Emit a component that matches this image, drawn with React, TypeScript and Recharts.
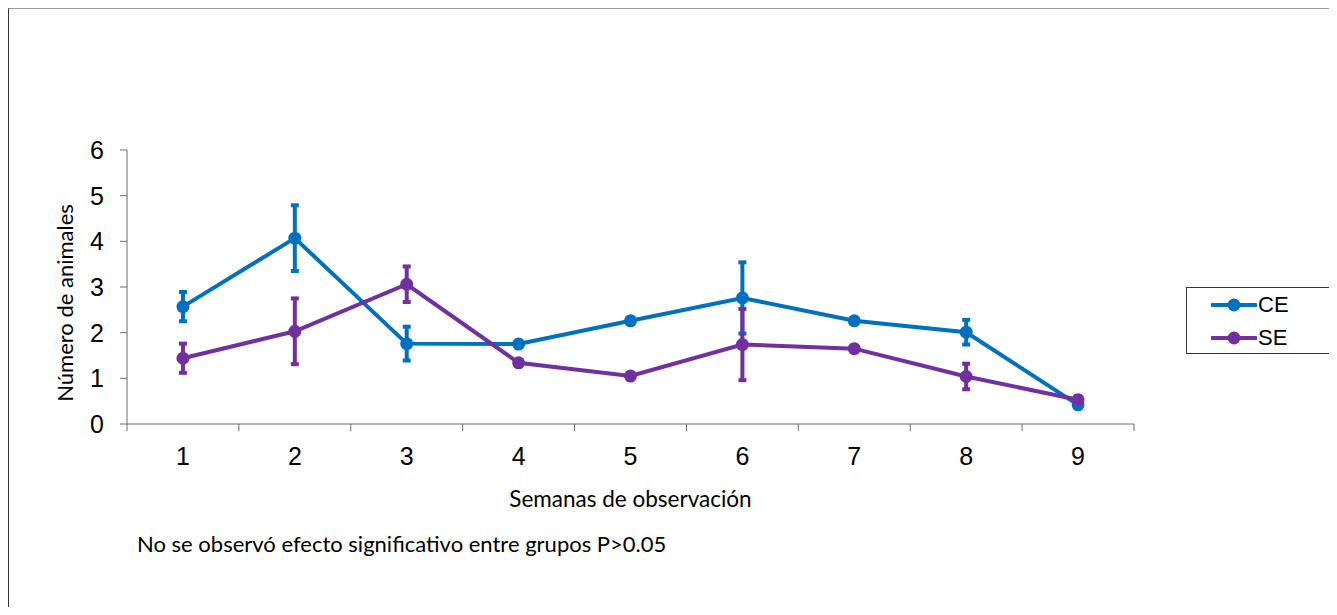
import { ErrorBar, Line, LineChart, XAxis, YAxis } from "recharts";

const weeks = [1, 2, 3, 4, 5, 6, 7, 8, 9];
const ceMean = [2.57, 4.07, 1.76, 1.75, 2.26, 2.76, 2.26, 2.01, 0.42];
const ceErr = [0.32, 0.72, 0.37, 0.05, 0.07, 0.78, 0, 0.27, 0.07];
const seMean = [1.44, 2.03, 3.06, 1.34, 1.05, 1.74, 1.65, 1.04, 0.53];
const seErr = [0.32, 0.72, 0.39, 0, 0.07, 0.78, 0, 0.28, 0.08];
const yTicks = [0, 1, 2, 3, 4, 5, 6];

const CE_COLOR = "#0070C0";
const SE_COLOR = "#7030A0";
const AXIS_COLOR = "#6b6b6b";
const TEXT_FONT = "Lato, 'Open Sans', sans-serif";
const NUM_FONT = "'Liberation Sans', Arial, sans-serif";

const series = [
  { key: "ce", err: "ceErr", name: "CE", color: CE_COLOR },
  { key: "se", err: "seErr", name: "SE", color: SE_COLOR },
];

const data = weeks.map((w, i) => ({
  week: w,
  ce: ceMean[i],
  ceErr: ceErr[i],
  se: seMean[i],
  seErr: seErr[i],
}));

// tick positions: labels at week centres, short marks on the boundaries between weeks
const xTicks = [0.5, ...weeks.flatMap((w) => [w, w + 0.5])];

function WeekTick(props: any) {
  const { x, y, payload } = props;
  const v = payload.value;
  if (!Number.isInteger(v)) {
    return <line x1={x} y1={y} x2={x} y2={y + 7} stroke={AXIS_COLOR} strokeWidth={1} />;
  }
  return (
    <text
      x={x}
      y={y + 32}
      textAnchor="middle"
      dominantBaseline="central"
      fontFamily={NUM_FONT}
      fontSize={25}
      fill="#000"
    >
      {v}
    </text>
  );
}

function LegendBox() {
  return (
    <div
      style={{
        position: "absolute",
        left: 1177,
        top: 278,
        width: 147,
        height: 67,
        boxSizing: "border-box",
        border: "1px solid #333",
        background: "#fff",
      }}
    >
      {series.map((s, i) => (
        <div
          key={s.key}
          style={{
            position: "absolute",
            left: 24,
            top: 6 + i * 33,
            height: 22,
            display: "flex",
            alignItems: "center",
          }}
        >
          <svg width={46} height={22}>
            <line x1={1} y1={11} x2={45} y2={11} stroke={s.color} strokeWidth={4} strokeLinecap="round" />
            <circle cx={23} cy={11} r={6.5} fill={s.color} />
          </svg>
          <span style={{ fontFamily: NUM_FONT, fontSize: 22, color: "#000", marginLeft: 1 }}>
            {s.name}
          </span>
        </div>
      ))}
    </div>
  );
}

export default function App() {
  return (
    <div
      style={{
        position: "relative",
        width: 1321,
        height: 599,
        boxSizing: "border-box",
        borderLeft: "1px solid #333",
        borderTop: "1px solid #999",
        background: "#fff",
      }}
    >
      <LineChart
        width={1320}
        height={598}
        data={data}
        margin={{ top: 141, right: 195, left: 0, bottom: 133 }}
      >
        <XAxis
          dataKey="week"
          type="number"
          domain={[0.5, 9.5]}
          ticks={xTicks}
          interval={0}
          height={50}
          stroke={AXIS_COLOR}
          tickLine={false}
          tickSize={0}
          tickMargin={0}
          tick={<WeekTick />}
          label={{
            content: (p: any) => (
              <text
                x={p.viewBox.x + p.viewBox.width / 2}
                y={p.viewBox.y + 74}
                textAnchor="middle"
                dominantBaseline="central"
                fontFamily={TEXT_FONT}
                fontSize={22.5}
                fill="#000"
              >
                Semanas de observación
              </text>
            ),
          }}
        />
        <YAxis
          type="number"
          domain={[0, 6]}
          ticks={yTicks}
          interval={0}
          width={118}
          stroke={AXIS_COLOR}
          tickSize={7}
          tickMargin={16}
          tick={{ fill: "#000", fontSize: 25, fontFamily: NUM_FONT }}
          label={{
            content: () => (
              <text
                x={55}
                y={294}
                transform="rotate(-90 55 294)"
                textAnchor="middle"
                dominantBaseline="central"
                fontFamily={TEXT_FONT}
                fontSize={22}
                fill="#000"
              >
                Número de animales
              </text>
            ),
          }}
        />
        {series.map((s) => (
          <Line
            key={s.key}
            dataKey={s.key}
            name={s.name}
            stroke={s.color}
            strokeWidth={4}
            dot={{ r: 6.5, fill: s.color, stroke: s.color, strokeWidth: 0 }}
            activeDot={false}
            isAnimationActive={false}
          >
            <ErrorBar
              dataKey={s.err}
              direction="y"
              width={4}
              strokeWidth={4}
              stroke={s.color}
              isAnimationActive={false}
            />
          </Line>
        ))}
      </LineChart>
      <LegendBox />
      <div
        style={{
          position: "absolute",
          left: 128,
          top: 523,
          lineHeight: "24px",
          fontFamily: TEXT_FONT,
          fontSize: 22,
          color: "#000",
          whiteSpace: "nowrap",
        }}
      >
        No se observó efecto significativo entre grupos P&gt;0.05
      </div>
    </div>
  );
}
